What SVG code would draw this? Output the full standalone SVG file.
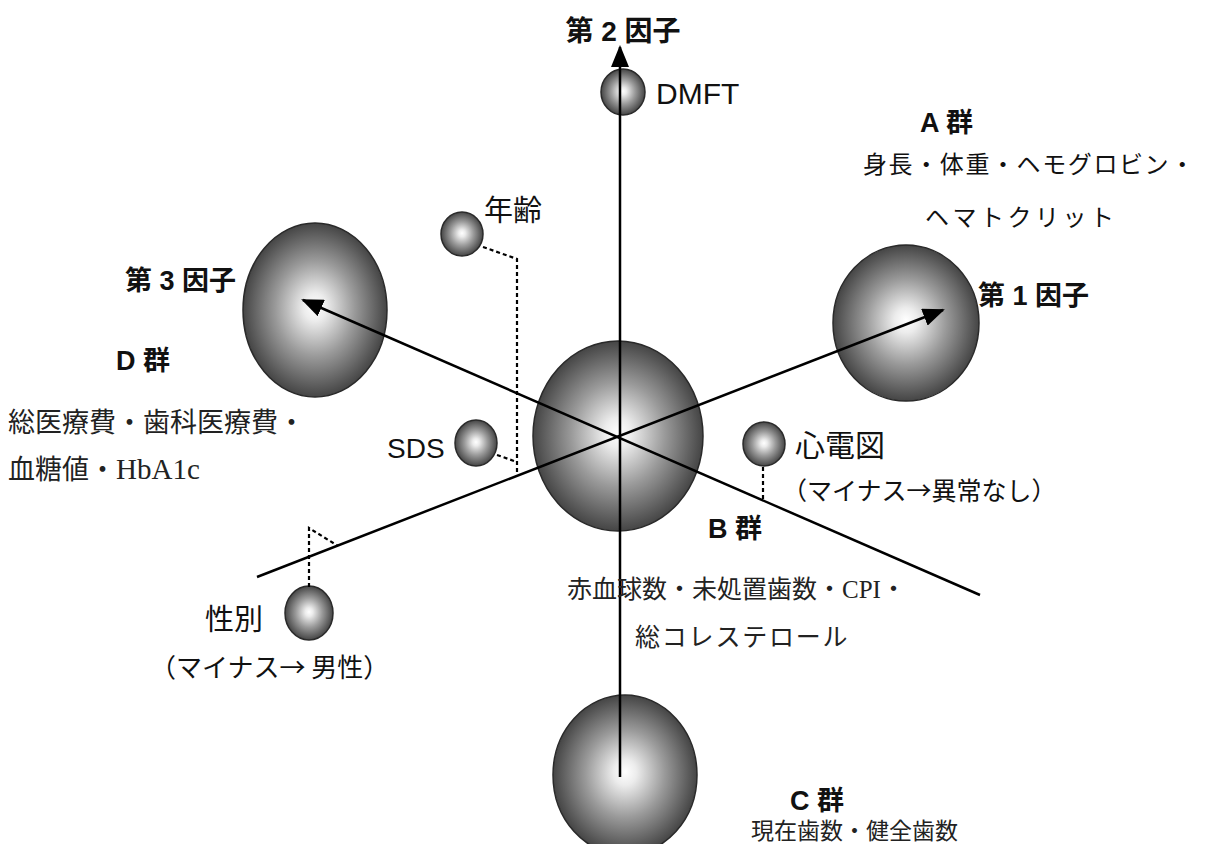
<svg xmlns="http://www.w3.org/2000/svg" width="1206" height="844" viewBox="0 0 1206 844">
<defs>
<radialGradient id="sph" cx="50%" cy="50%" r="50%" fx="50%" fy="48%">
<stop offset="0%" stop-color="#ffffff"/>
<stop offset="16%" stop-color="#ececec"/>
<stop offset="55%" stop-color="#9a9a9a"/>
<stop offset="100%" stop-color="#454545"/>
</radialGradient>
<marker id="arr" markerUnits="userSpaceOnUse" markerWidth="22" markerHeight="18" refX="20" refY="9" orient="auto">
<path d="M0,0 L22,9 L0,18 Z" fill="#000"/>
</marker>
</defs>
<style>
.s{fill:url(#sph);stroke:#2a2a2a;stroke-width:1.5}
.ax{stroke:#000;stroke-width:2.5;fill:none}
.dl{stroke:#000;stroke-width:2.2;fill:none;stroke-dasharray:4,3}
.g{font-family:"Liberation Sans","Noto Sans CJK JP",sans-serif;fill:#111}
.j{font-family:"Noto Sans CJK JP","Liberation Sans",sans-serif;fill:#111}
.b{font-weight:bold}
.m{font-family:"Liberation Serif","Noto Sans CJK JP",serif;fill:#222}
</style>
<rect width="1206" height="844" fill="#fff"/>

<g id="node-A"><ellipse class="s" cx="906" cy="323" rx="73" ry="78"/></g>
<g id="node-D"><ellipse class="s" cx="315" cy="310" rx="72" ry="87"/></g>
<g id="node-B"><ellipse class="s" cx="618" cy="436" rx="85" ry="95"/></g>
<g id="node-C"><ellipse class="s" cx="625" cy="775" rx="72" ry="80"/></g>
<g id="node-DMFT"><ellipse class="s" cx="623" cy="92" rx="22" ry="23"/></g>
<g id="node-age"><ellipse class="s" cx="462" cy="234" rx="21" ry="22"/></g>
<g id="node-SDS"><ellipse class="s" cx="476" cy="443" rx="21" ry="23"/></g>
<g id="node-ecg"><ellipse class="s" cx="764" cy="444" rx="21" ry="22"/></g>
<g id="node-sex"><ellipse class="s" cx="309" cy="613" rx="24" ry="27"/></g>

<g id="connectors">
<line class="ax" x1="620" y1="777" x2="620" y2="47" marker-end="url(#arr)"/>
<line class="ax" x1="257" y1="577" x2="943" y2="310" marker-end="url(#arr)"/>
<line class="ax" x1="980" y1="595" x2="303" y2="300" marker-end="url(#arr)"/>
<path class="dl" d="M483,247 L517,259 L517,476"/>
<path class="dl" d="M497,455 L517,462"/>
<path class="dl" d="M763,467 L763,500"/>
<path class="dl" d="M309,587 L309,528 L338,546"/>
</g>

<g id="labels">
<text class="g b" x="623" y="41" font-size="28" text-anchor="middle">第 2 因子</text>
<text class="g" x="656" y="104" font-size="30">DMFT</text>
<text class="g b" x="920" y="132" font-size="27">A 群</text>
<text class="g" x="863" y="173" font-size="24" letter-spacing="1.6">身長・体重・ヘモグロビン・</text>
<text class="g" x="925" y="226" font-size="24" letter-spacing="3.5">ヘマトクリット</text>
<text class="g" x="484" y="221" font-size="29">年齢</text>
<text class="g b" x="236" y="290" font-size="27" text-anchor="end">第 3 因子</text>
<text class="g b" x="978" y="305" font-size="27">第 1 因子</text>
<text class="g b" x="116" y="370" font-size="27">D 群</text>
<text class="m" x="8" y="432" font-size="27">総医療費・歯科医療費・</text>
<text class="m" x="8" y="479" font-size="27">血糖値・<tspan font-size="29">HbA1c</tspan></text>
<text class="g" x="387" y="458" font-size="28">SDS</text>
<text class="g" x="795" y="456" font-size="30">心電図</text>
<text class="j" x="782" y="500" font-size="25">（マイナス→異常なし）</text>
<text class="g b" x="708" y="538" font-size="27">B 群</text>
<text class="m" x="567" y="598" font-size="25">赤血球数・未処置歯数・CPI・</text>
<text class="m" x="635" y="646" font-size="25" letter-spacing="1.8">総コレステロール</text>
<text class="g" x="205" y="630" font-size="29">性別</text>
<text class="j" x="150" y="677" font-size="26">（マイナス→ 男性）</text>
<text class="g b" x="790" y="810" font-size="27">C 群</text>
<text class="m" x="751" y="839" font-size="23">現在歯数・健全歯数</text>
</g>
</svg>
